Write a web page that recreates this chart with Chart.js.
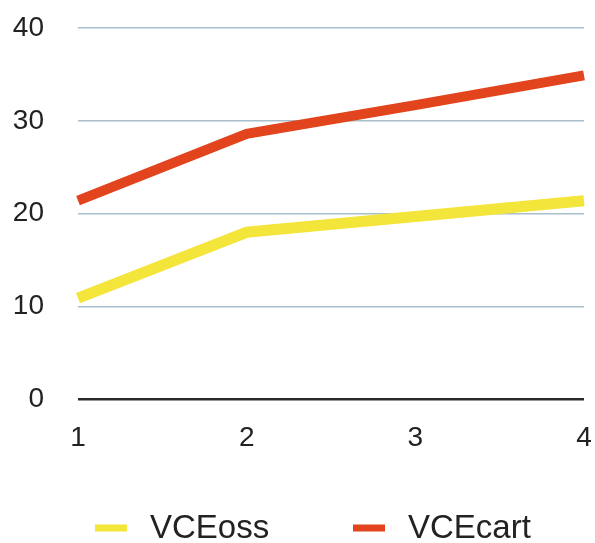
<!DOCTYPE html>
<html>
<head>
<meta charset="utf-8">
<script src="https://cdn.jsdelivr.net/npm/chart.js@4/dist/chart.umd.min.js"></script>
<style>
  html, body { margin: 0; padding: 0; background: #fff; }
  #wrap { width: 595px; height: 543px; }
</style>
</head>
<body>
<div id="wrap"><canvas id="chart" width="595" height="543"></canvas></div>
<script>
const xLabels = ["1", "2", "3", "4"];
const vceOss = [10.9, 18.0, 19.7, 21.4];
const vceCart = [21.4, 28.6, 31.7, 34.9];
const seriesNames = ["VCEoss", "VCEcart"];
const yTicks = [0, 10, 20, 30, 40];

const FONT = "'Liberation Sans', Arial, Helvetica, sans-serif";

// legend drawn under the axis, swatch + text per series
const bottomLegend = {
  id: "bottomLegend",
  afterDraw(chart, args, opts) {
    const ctx = chart.ctx;
    ctx.save();
    ctx.font = opts.fontSize + "px " + FONT;
    ctx.textBaseline = "middle";
    ctx.textAlign = "left";
    chart.data.datasets.forEach(function (ds, i) {
      var x = opts.starts[i];
      ctx.fillStyle = ds.borderColor;
      ctx.fillRect(x, opts.y - opts.boxHeight / 2, opts.boxWidth, opts.boxHeight);
      ctx.fillStyle = "#222";
      ctx.fillText(ds.label, x + opts.boxWidth + opts.gap, opts.y + 1);
    });
    ctx.restore();
  },
};

const ctx = document.getElementById("chart").getContext("2d");
const myChart = new Chart(ctx, {
  type: "line",
  data: {
    labels: xLabels,
    datasets: [
      {
        label: seriesNames[0],
        data: vceOss,
        borderColor: "#f4e53a",
        backgroundColor: "#f4e53a",
        borderWidth: 11,
        pointRadius: 0,
        tension: 0,
        borderCapStyle: "butt",
        borderJoinStyle: "miter",
      },
      {
        label: seriesNames[1],
        data: vceCart,
        borderColor: "#e2441e",
        backgroundColor: "#e2441e",
        borderWidth: 10,
        pointRadius: 0,
        tension: 0,
        borderCapStyle: "butt",
        borderJoinStyle: "miter",
      },
    ],
  },
  options: {
    responsive: false,
    animation: false,
    layout: {
      padding: { left: 0, right: 11, top: 28, bottom: 66 },
    },
    plugins: {
      legend: { display: false },
      tooltip: { enabled: false },
      bottomLegend: {
        starts: [95, 353],
        y: 528,
        boxWidth: 32,
        boxHeight: 7,
        gap: 23,
        fontSize: 33,
      },
    },
    scales: {
      x: {
        offset: false,
        afterFit: function (scale) {
          // keep label overflow out of the layout, padding set above
          scale.paddingLeft = 0;
          scale.paddingRight = 0;
        },
        grid: { display: false, drawTicks: false },
        border: { display: false },
        ticks: {
          color: "#222",
          padding: 22,
          maxRotation: 0,
          font: { family: FONT, size: 28 },
        },
      },
      y: {
        min: yTicks[0],
        max: yTicks[yTicks.length - 1],
        afterFit: function (scale) {
          scale.width = 78;
          scale.paddingTop = 0;
          scale.paddingBottom = 0;
        },
        afterBuildTicks: function (scale) {
          scale.ticks = yTicks.map((v) => ({ value: v }));
        },
        grid: {
          drawTicks: false,
          color: (c) => (c.tick && c.tick.value === 0 ? "#2a2a2a" : "#a9bfcb"),
          lineWidth: (c) => (c.tick && c.tick.value === 0 ? 2.5 : 1.5),
        },
        border: { display: false },
        ticks: {
          color: "#222",
          padding: 34,
          font: { family: FONT, size: 28 },
        },
      },
    },
  },
  plugins: [bottomLegend],
});
</script>
</body>
</html>
